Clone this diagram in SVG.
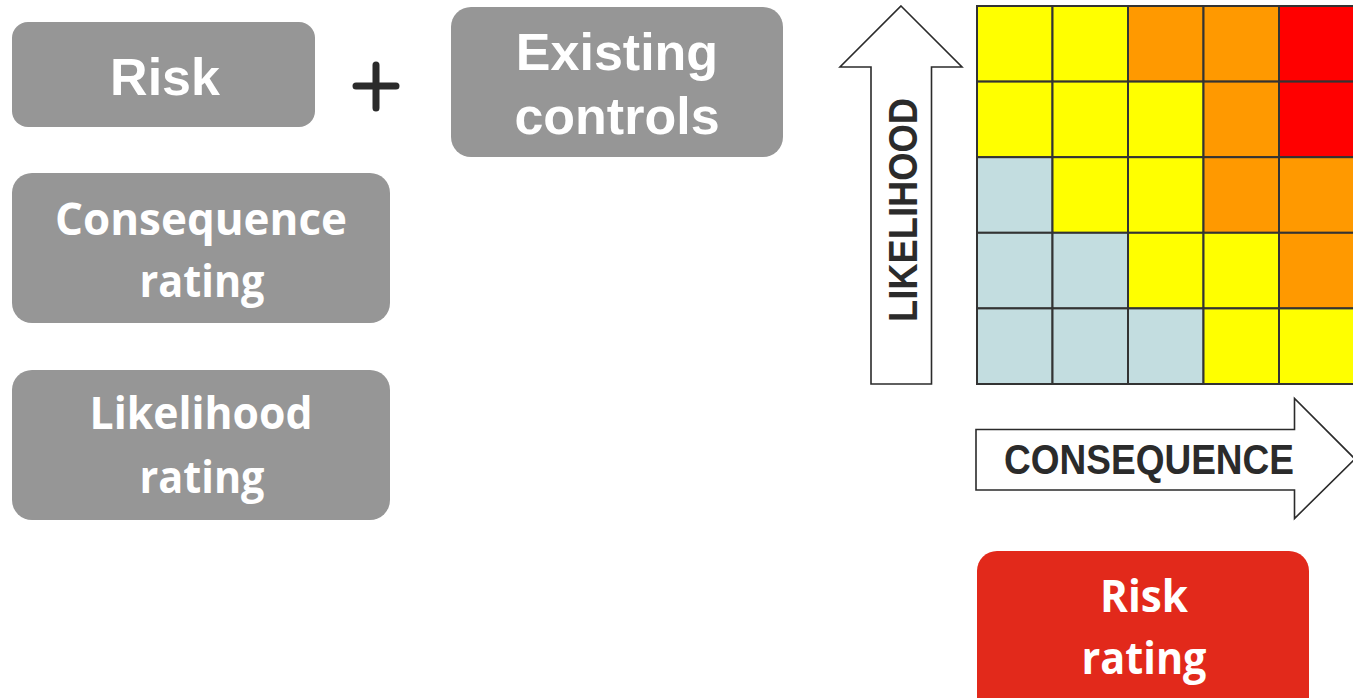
<svg xmlns="http://www.w3.org/2000/svg" width="1353" height="698" viewBox="0 0 1353 698">
  <style>
    .box { fill: #969696; }
    .lbl-arial { font-family: "Liberation Sans", Arial, sans-serif; font-weight: 700; fill: #ffffff; text-anchor: middle; }
    .lbl-cal { font-family: "Open Sans", "Noto Sans", sans-serif; font-weight: 700; fill: #ffffff; text-anchor: middle; }
    .axis { fill: #ffffff; stroke: #2b2b2b; stroke-width: 1.6; stroke-linejoin: miter; }
    .axis-txt { font-family: "Liberation Sans", Arial, sans-serif; font-weight: 700; fill: #2b2b2b; text-anchor: middle; }
    .cell { stroke: #333333; stroke-width: 2; }
    .y { fill: #ffff00; }
    .o { fill: #ff9900; }
    .r { fill: #ff0000; }
    .b { fill: #c3dde0; }
  </style>

  <!-- input boxes -->
  <g id="risk">
    <rect class="box" x="12" y="22" width="303" height="105" rx="16"/>
    <text class="lbl-arial" x="165" y="95" font-size="52">Risk</text>
  </g>

  <g id="plus">
    <path d="M376 65 V108 M356 86 H396" stroke="#2b2b2b" stroke-width="7" stroke-linecap="round" fill="none"/>
  </g>

  <g id="existing-controls">
    <rect class="box" x="451" y="7" width="332" height="150" rx="20"/>
    <text class="lbl-arial" x="617" y="70" font-size="52">Existing</text>
    <text class="lbl-arial" x="617" y="134" font-size="52">controls</text>
  </g>

  <g id="consequence-rating">
    <rect class="box" x="12" y="173" width="378" height="150" rx="20"/>
    <text class="lbl-cal" x="201" y="235" font-size="44" textLength="292" lengthAdjust="spacingAndGlyphs">Consequence</text>
    <text class="lbl-cal" x="202" y="297" font-size="44" textLength="125" lengthAdjust="spacingAndGlyphs">rating</text>
  </g>

  <g id="likelihood-rating">
    <rect class="box" x="12" y="370" width="378" height="150" rx="20"/>
    <text class="lbl-cal" x="201" y="429" font-size="44" textLength="223" lengthAdjust="spacingAndGlyphs">Likelihood</text>
    <text class="lbl-cal" x="202" y="493" font-size="44" textLength="125" lengthAdjust="spacingAndGlyphs">rating</text>
  </g>

  <!-- risk matrix: 5 x 5 cells -->
  <g id="matrix">
    <!-- row 1 -->
    <rect class="cell y" x="977" y="6" width="75.5" height="75.6"/>
    <rect class="cell y" x="1052.5" y="6" width="75.5" height="75.6"/>
    <rect class="cell o" x="1128" y="6" width="75.5" height="75.6"/>
    <rect class="cell o" x="1203.5" y="6" width="75.5" height="75.6"/>
    <rect class="cell r" x="1279" y="6" width="76" height="75.6"/>
    <!-- row 2 -->
    <rect class="cell y" x="977" y="81.6" width="75.5" height="75.6"/>
    <rect class="cell y" x="1052.5" y="81.6" width="75.5" height="75.6"/>
    <rect class="cell y" x="1128" y="81.6" width="75.5" height="75.6"/>
    <rect class="cell o" x="1203.5" y="81.6" width="75.5" height="75.6"/>
    <rect class="cell r" x="1279" y="81.6" width="76" height="75.6"/>
    <!-- row 3 -->
    <rect class="cell b" x="977" y="157.2" width="75.5" height="75.6"/>
    <rect class="cell y" x="1052.5" y="157.2" width="75.5" height="75.6"/>
    <rect class="cell y" x="1128" y="157.2" width="75.5" height="75.6"/>
    <rect class="cell o" x="1203.5" y="157.2" width="75.5" height="75.6"/>
    <rect class="cell o" x="1279" y="157.2" width="76" height="75.6"/>
    <!-- row 4 -->
    <rect class="cell b" x="977" y="232.8" width="75.5" height="75.6"/>
    <rect class="cell b" x="1052.5" y="232.8" width="75.5" height="75.6"/>
    <rect class="cell y" x="1128" y="232.8" width="75.5" height="75.6"/>
    <rect class="cell y" x="1203.5" y="232.8" width="75.5" height="75.6"/>
    <rect class="cell o" x="1279" y="232.8" width="76" height="75.6"/>
    <!-- row 5 -->
    <rect class="cell b" x="977" y="308.4" width="75.5" height="75.6"/>
    <rect class="cell b" x="1052.5" y="308.4" width="75.5" height="75.6"/>
    <rect class="cell b" x="1128" y="308.4" width="75.5" height="75.6"/>
    <rect class="cell y" x="1203.5" y="308.4" width="75.5" height="75.6"/>
    <rect class="cell y" x="1279" y="308.4" width="76" height="75.6"/>
  </g>

  <!-- axis arrows -->
  <g id="connectors">
    <g id="likelihood-axis">
      <path class="axis" d="M901 6 L962 67 H931.5 V384 H871 V67 H840 Z"/>
      <text class="axis-txt" transform="translate(917 210) rotate(-90)" font-size="40" textLength="224" lengthAdjust="spacingAndGlyphs">LIKELIHOOD</text>
    </g>
    <g id="consequence-axis">
      <path class="axis" d="M976 429.5 H1294.5 V398.5 L1355 459 L1294.5 518.5 V490 H976 Z"/>
      <text class="axis-txt" x="1149" y="474" font-size="42" textLength="290" lengthAdjust="spacingAndGlyphs">CONSEQUENCE</text>
    </g>
  </g>

  <!-- result -->
  <g id="risk-rating">
    <rect x="977" y="551" width="332" height="170" rx="20" fill="#e2291b"/>
    <text class="lbl-cal" x="1144" y="612" font-size="44" textLength="88" lengthAdjust="spacingAndGlyphs">Risk</text>
    <text class="lbl-cal" x="1144" y="674" font-size="44" textLength="125" lengthAdjust="spacingAndGlyphs">rating</text>
  </g>
</svg>
